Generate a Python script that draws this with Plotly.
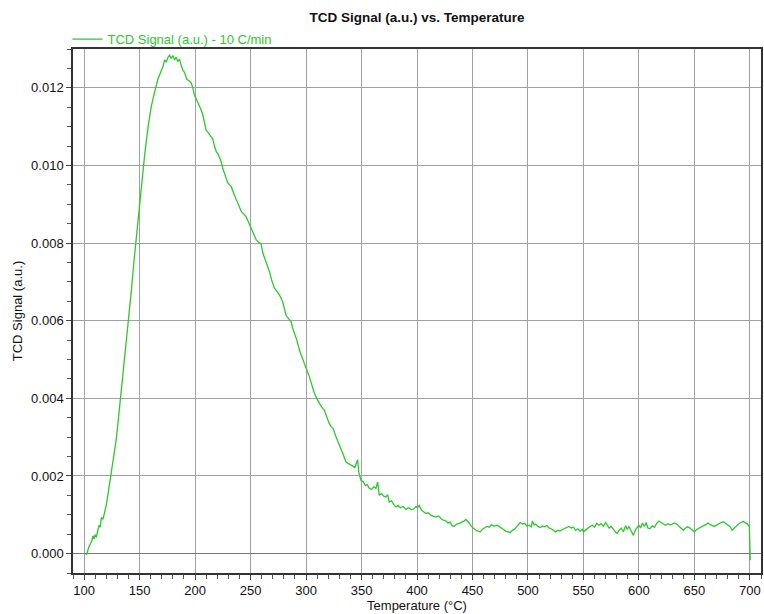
import plotly.graph_objects as go

temperature = [
    101.5, 102.5, 104, 105.5, 107, 108, 109, 110, 111, 112, 113.5, 114.5, 115.6, 117, 118.5,
    120, 121.5, 123, 124.5, 126, 127.5, 129, 131, 133, 135, 137.5, 140, 142.5, 145, 147,
    149, 151.6, 154.6, 157.6, 160.6, 163.6, 166.5, 169, 171, 172.6, 174, 175.5, 177, 178.5,
    180, 181.5, 183, 184.5, 186, 187.5, 189, 190.5, 192.6, 194.5, 196.6, 198, 199.5, 201, 203,
    205.6, 207, 208.5, 210, 211.5, 213, 216, 217.5, 219, 221, 223.5, 225, 226.5, 228, 229.5,
    232.5, 234.5, 237, 239, 241.5, 243.5, 246, 248, 250.5, 253, 255, 257, 259.5, 261, 263,
    265, 267, 269, 271.5, 274, 276.5, 279, 280.5, 282, 284, 286.5, 288, 289.5, 291.5, 294,
    296, 298.5, 300.5, 303, 305, 307.5, 310, 312, 314, 316.5, 318.5, 320.5, 322.5, 324.5, 327,
    329, 331.5, 333.5, 336, 338, 340, 342, 344, 346.5, 347.5, 349.5, 351.5, 353.5, 355, 357,
    359, 361, 363, 364.5, 366, 368, 370, 372, 373.5, 375, 377, 379, 381, 383, 385,
    387.5, 390, 392.5, 395, 397.5, 399, 400.5, 402, 404, 406, 408, 410, 412.5, 415, 417,
    419.5, 422, 424, 426, 428, 430, 431.5, 433.5, 435.5, 438, 440, 442, 444, 445.5, 447,
    449, 451, 453, 455, 457, 459, 461, 463, 465, 467, 469.5, 472, 474, 476, 478,
    480, 482, 484, 486, 488, 490, 493, 495, 497, 499, 501, 503, 504, 505.5, 507,
    509, 511, 513, 515, 517, 519, 521, 523, 525, 527, 529, 531, 533, 535, 537,
    539, 541, 543, 545, 547, 549, 550, 552, 554, 556, 558, 560, 562, 564, 566,
    568, 570, 571.5, 573, 575, 577, 579, 580.5, 582, 584, 586, 588, 589.5, 591, 593,
    595, 597, 598.5, 600, 601.5, 603, 605, 606.5, 608, 610, 612, 614, 616, 618, 620,
    622, 624, 626, 628, 630, 632, 634, 636, 638, 640, 642, 644, 646, 648, 650,
    652, 654, 656, 658, 660, 662, 664, 666, 668, 670, 672, 674, 676, 678, 680,
    682, 684, 686, 688, 690, 692, 694, 696, 698, 699.5, 700, 700.3,
]

tcd_signal = [
    -0.00003, -0.00001, 0.00015, 0.00024, 0.00033, 0.00046, 0.00038, 0.00049, 0.00042, 0.00055, 0.00073, 0.00068, 0.00093, 0.00088, 0.00105,
    0.00125, 0.00152, 0.00182, 0.00208, 0.00235, 0.00265, 0.00295, 0.00350, 0.00405, 0.00460, 0.00530, 0.00600, 0.00675, 0.00755, 0.00815,
    0.00870, 0.00945, 0.01028, 0.01098, 0.01153, 0.01190, 0.01222, 0.01240, 0.01254, 0.01272, 0.01266, 0.01278, 0.01284, 0.01276,
    0.01283, 0.01272, 0.01279, 0.01268, 0.01274, 0.01258, 0.01245, 0.01240, 0.01222, 0.01218, 0.01212, 0.01200, 0.01180, 0.01172, 0.01160,
    0.01142, 0.01130, 0.01112, 0.01090, 0.01086, 0.01080, 0.01068, 0.01050, 0.01036, 0.01028, 0.01010, 0.00992, 0.00980, 0.00968, 0.00955,
    0.00946, 0.00930, 0.00912, 0.00900, 0.00882, 0.00876, 0.00868, 0.00855, 0.00838, 0.00824, 0.00809, 0.00803, 0.00798, 0.00775, 0.00760,
    0.00745, 0.00727, 0.00705, 0.00684, 0.00675, 0.00664, 0.00648, 0.00630, 0.00614, 0.00606, 0.00598, 0.00580, 0.00568, 0.00552, 0.00525,
    0.00508, 0.00486, 0.00474, 0.00456, 0.00437, 0.00413, 0.00398, 0.00387, 0.00378, 0.00370, 0.00352, 0.00338, 0.00327, 0.00322, 0.00301,
    0.00288, 0.00267, 0.00255, 0.00236, 0.00232, 0.00228, 0.00225, 0.00222, 0.00242, 0.00210, 0.00189, 0.00185, 0.00175, 0.00178, 0.00168,
    0.00165, 0.00172, 0.00168, 0.00185, 0.00150, 0.00155, 0.00148, 0.00146, 0.00152, 0.00133, 0.00136, 0.00126, 0.00120, 0.00124, 0.00118,
    0.00121, 0.00114, 0.00118, 0.00113, 0.00116, 0.00121, 0.00119, 0.00124, 0.00112, 0.00108, 0.00103, 0.00105, 0.00099, 0.00096, 0.00094,
    0.00097, 0.00089, 0.00086, 0.00084, 0.00079, 0.00081, 0.00072, 0.00070, 0.00076, 0.00077, 0.00081, 0.00083, 0.00088, 0.00084, 0.00079,
    0.00070, 0.00064, 0.00060, 0.00058, 0.00056, 0.00063, 0.00066, 0.00070, 0.00068, 0.00074, 0.00071, 0.00073, 0.00070, 0.00065, 0.00062,
    0.00058, 0.00056, 0.00054, 0.00060, 0.00063, 0.00070, 0.00080, 0.00076, 0.00078, 0.00071, 0.00073, 0.00069, 0.00084, 0.00074, 0.00076,
    0.00070, 0.00067, 0.00071, 0.00069, 0.00072, 0.00066, 0.00064, 0.00060, 0.00056, 0.00060, 0.00058, 0.00062, 0.00064, 0.00067, 0.00070,
    0.00066, 0.00068, 0.00060, 0.00064, 0.00058, 0.00062, 0.00056, 0.00061, 0.00066, 0.00070, 0.00073, 0.00068, 0.00078, 0.00073, 0.00077,
    0.00070, 0.00080, 0.00074, 0.00066, 0.00070, 0.00062, 0.00055, 0.00052, 0.00060, 0.00066, 0.00056, 0.00072, 0.00062, 0.00070, 0.00058,
    0.00047, 0.00062, 0.00068, 0.00073, 0.00066, 0.00078, 0.00070, 0.00080, 0.00066, 0.00064, 0.00072, 0.00068, 0.00078, 0.00084, 0.00080,
    0.00076, 0.00073, 0.00077, 0.00074, 0.00076, 0.00079, 0.00076, 0.00070, 0.00066, 0.00060, 0.00066, 0.00069, 0.00066, 0.00062, 0.00056,
    0.00062, 0.00064, 0.00068, 0.00072, 0.00074, 0.00079, 0.00075, 0.00072, 0.00070, 0.00074, 0.00077, 0.00080, 0.00082, 0.00078, 0.00075,
    0.00070, 0.00060, 0.00066, 0.00072, 0.00077, 0.00080, 0.00083, 0.00079, 0.00076, 0.00069, 0.00040, -0.00017,
]

x_ticks = [100, 150, 200, 250, 300, 350, 400, 450, 500, 550, 600, 650, 700]
y_ticks = [0.000, 0.002, 0.004, 0.006, 0.008, 0.010, 0.012]

GREEN = "#2ec82e"
FONT = "Liberation Sans, Arial, sans-serif"

fig = go.Figure()
fig.add_trace(go.Scatter(
    x=temperature, y=tcd_signal, mode="lines",
    name="TCD Signal (a.u.) - 10 C/min",
    line=dict(color=GREEN, width=1.3),
))

fig.update_layout(
    width=764, height=614,
    margin=dict(l=73, r=1, t=49, b=41),
    paper_bgcolor="white", plot_bgcolor="white",
    font=dict(family=FONT, size=13, color="#111"),
    title=dict(text="<b>TCD Signal (a.u.) vs. Temperature</b>", x=0.5, xref="paper",
               y=1 - 17 / 614, yref="container", yanchor="middle",
               font=dict(size=13.5, color="#111")),
    showlegend=True,
    legend=dict(x=-0.008, xanchor="left", y=0.99, yanchor="bottom", orientation="h",
                font=dict(color=GREEN, size=13), bgcolor="rgba(0,0,0,0)",
                itemwidth=30),
)

fig.update_xaxes(
    range=[90, 710], tickvals=x_ticks, ticks="outside", ticklen=5, tickcolor="#444",
    showgrid=True, gridcolor="#a0a0a0", gridwidth=1.4,
    showline=True, linecolor="#333", linewidth=1.5, mirror=True,
    zeroline=False,
    minor=dict(dtick=10, tick0=0, ticks="outside", ticklen=4, tickcolor="#555", showgrid=False),
    title=dict(text="Temperature (°C)", font=dict(size=13), standoff=3),
    tickfont=dict(size=13),
)
fig.update_yaxes(
    range=[-0.0005, 0.013], tickvals=y_ticks, tickformat=".3f",
    ticks="outside", ticklen=5, tickcolor="#444",
    showgrid=True, gridcolor="#a0a0a0", gridwidth=1.4,
    showline=True, linecolor="#333", linewidth=1.5, mirror=True,
    zeroline=True, zerolinecolor="#777", zerolinewidth=1.4,
    minor=dict(dtick=0.0005, tick0=0, ticks="outside", ticklen=4, tickcolor="#555", showgrid=False),
    title=dict(text="TCD Signal (a.u.)", font=dict(size=13), standoff=6),
    tickfont=dict(size=13),
)

fig.write_html("out.html")
